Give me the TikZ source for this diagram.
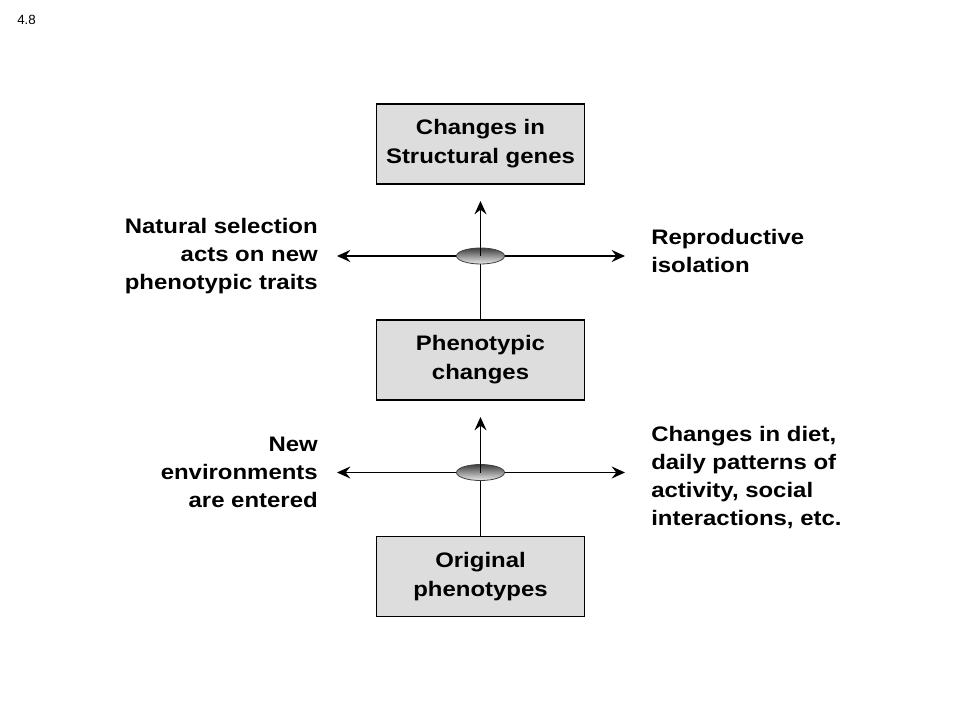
\documentclass[tikz,border=0pt]{standalone}
\usepackage{fontspec}
\setmainfont{Liberation Sans}
\newfontfamily\labfont[FakeStretch=1.14]{Liberation Sans}
\usetikzlibrary{arrows.meta,shapes.geometric}
\definecolor{boxfill}{HTML}{DDDDDD}
\begin{document}
\begin{tikzpicture}[x=0.75pt,y=-0.75pt,
  box/.style={draw=black,line width=1.1pt,fill=boxfill,minimum width=156pt,minimum height=60pt,
    align=center,font=\labfont\fontsize{15.75pt}{21.75pt}\selectfont\bfseries,inner sep=0pt},
  lab/.style={font=\labfont\fontsize{15.75pt}{21pt}\selectfont\bfseries,inner sep=0pt},
  conn/.style={line width=1.3pt,draw=black},
  tip/.style={-{Stealth[length=10pt,width=9pt,inset=3.5pt]}},
  both/.style={{Stealth[length=10pt,width=9pt,inset=3.5pt]}-{Stealth[length=10pt,width=9pt,inset=3.5pt]}},
  junction/.style={ellipse,draw=black!75,line width=0.6pt,minimum width=36pt,minimum height=12pt,inner sep=0pt,
    top color=black!75,bottom color=black!8}
]
\useasboundingbox (0,0) rectangle (960,720);
\node[font=\fontsize{10pt}{11pt}\selectfont,anchor=west,inner sep=0pt] (num) at (17,20) {4.8};

\node[box] (top) at (480.5,144) {Changes in\\Structural genes};
\node[box] (mid) at (480.5,360) {Phenotypic\\changes};
\node[box] (bot) at (480.5,576.5) {Original\\phenotypes};

% upper junction
\coordinate (J1) at (480.5,256);
\coordinate (L1) at (337,256);
\coordinate (R1) at (625,256);
\coordinate (T1) at (480.5,201);
\draw[conn,both] (L1) -- (R1);
\draw[conn,tip] (mid.north) -- (T1);
\node[junction] (E1) at (J1) {};
\draw[conn] (E1.center) -- (E1.north);

% lower junction
\coordinate (J2) at (480.5,472.5);
\coordinate (L2) at (337,472.5);
\coordinate (R2) at (625,472.5);
\coordinate (T2) at (480.5,417);
\draw[conn,both] (L2) -- (R2);
\draw[conn,tip] (bot.north) -- (T2);
\node[junction] (E2) at (J2) {};
\draw[conn] (E2.center) -- (E2.north);

\node[lab,anchor=east,align=right] (nsel) at (318,256) {Natural selection\\acts on new\\phenotypic traits};
\node[lab,anchor=west,align=left] (repro) at (651,251) {Reproductive\\isolation};
\node[lab,anchor=east,align=right] (newenv) at (318,472) {New\\environments\\are entered};
\node[lab,anchor=west,align=left] (diet) at (651,478) {Changes in diet,\\daily patterns of\\activity, social\\interactions, etc.};
\end{tikzpicture}
\end{document}
